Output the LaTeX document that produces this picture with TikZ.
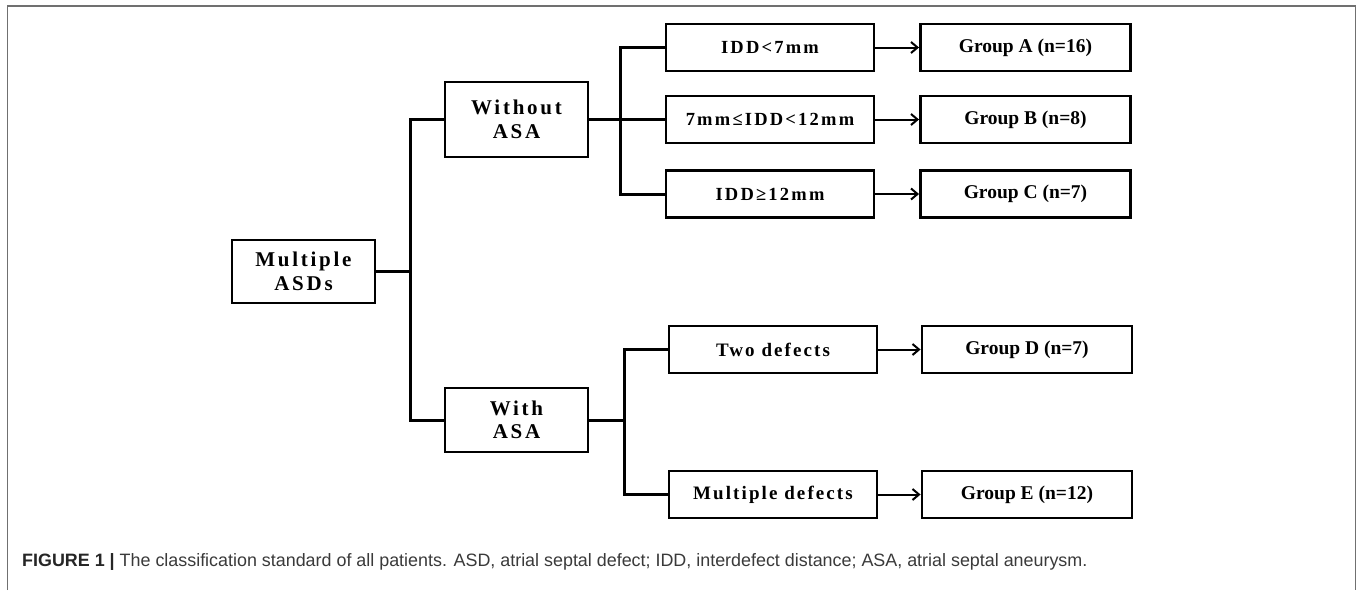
\documentclass[tikz,border=0pt]{standalone}
\usepackage{fontspec}
\setmainfont{Liberation Serif}
\newfontfamily\capfont{Liberation Sans}
\usetikzlibrary{arrows.meta}
\definecolor{framegray}{HTML}{707070}
\definecolor{captext}{HTML}{3A3A3A}
\begin{document}
\begin{tikzpicture}[x=1pt,y=-1pt,
  box/.style={draw, line width=2.9pt, inner sep=0pt, align=center, text=black},
  bigbox/.style={box, minimum width=143pt, font=\fontsize{21}{23.5}\selectfont\bfseries\addfontfeatures{LetterSpace=13}},
  midbox/.style={box, minimum width=208pt, minimum height=47pt, font=\fontsize{18.5}{22}\selectfont\bfseries\addfontfeatures{LetterSpace=12}},
  grpbox/.style={box, minimum width=210pt, minimum height=47pt, font=\fontsize{19.5}{22}\selectfont\bfseries},
  conn/.style={line width=3pt},
  arr/.style={line width=2pt, -{Straight Barb[length=6.5pt,width=11pt,line width=2pt]}}
]
\useasboundingbox (0,0) rectangle (1360,590);
\fill[white] (0,0) rectangle (1360,590);
% frame
\draw[framegray, line width=1.5pt] (7.5,590) -- (7.5,6) -- (1355.5,6) -- (1355.5,590);

% nodes
\node[bigbox, minimum height=63pt] (MA) at (303.5,271.5) {Multiple\\ASDs};
\node[bigbox, minimum height=75pt] (WO) at (516.5,119.5) {Without\\ASA};
\node[bigbox, minimum height=64pt] (WI) at (516.5,420) {With\\ASA};

\node[midbox] (L1) at (770,47.5) {IDD<7mm};
\node[midbox] (L2) at (770,119.5) {7mm≤IDD<12mm};
\node[midbox] (L3) at (770,194) {IDD≥12mm};
\node[midbox, font=\fontsize{19}{22}\selectfont\bfseries\addfontfeatures{LetterSpace=11}] (L4) at (773,349.5) {Two defects};
\node[midbox, font=\fontsize{19}{22}\selectfont\bfseries\addfontfeatures{LetterSpace=11}] (L5) at (773,494.5) {Multiple defects};

\node[grpbox] (G1) at (1025.5,47.5) {Group A (n=16)};
\node[grpbox] (G2) at (1025.5,119.5) {Group B (n=8)};
\node[grpbox] (G3) at (1025.5,194) {Group C (n=7)};
\node[grpbox] (G4) at (1027,349.5) {Group D (n=7)};
\node[grpbox] (G5) at (1027,494.5) {Group E (n=12)};

% bus coordinates
\coordinate (t1) at (410,0);
\coordinate (t2) at (620,0);
\coordinate (t3) at (624,0);

% connectors
\draw[conn] (MA.east) -- (MA.east -| t1);
\draw[conn] (WO.west) -| (t1 |- WI.west) -- (WI.west);
\draw[conn] (WO.east) -- (WO.east -| t2);
\draw[conn] (L1.west) -| (t2 |- L3.west) -- (L3.west);
\draw[conn] (L2.west) -- (L2.west -| t2);
\draw[conn] (WI.east) -- (WI.east -| t3);
\draw[conn] (L4.west) -| (t3 |- L5.west) -- (L5.west);

% arrows
\draw[arr] (L1.east) -- (G1.west);
\draw[arr] (L2.east) -- (G2.west);
\draw[arr] (L3.east) -- (G3.west);
\draw[arr] (L4.east) -- (G4.west);
\draw[arr] (L5.east) -- (G5.west);

% caption
\node[anchor=base west, inner sep=0pt, text=captext, font=\capfont\fontsize{17.9}{20}\selectfont] (cap) at (22,566)
  {\textbf{\color{black!85}FIGURE 1 |} The classification standard of all patients. ASD, atrial septal defect; IDD, interdefect distance; ASA, atrial septal aneurysm.};
\end{tikzpicture}
\end{document}
